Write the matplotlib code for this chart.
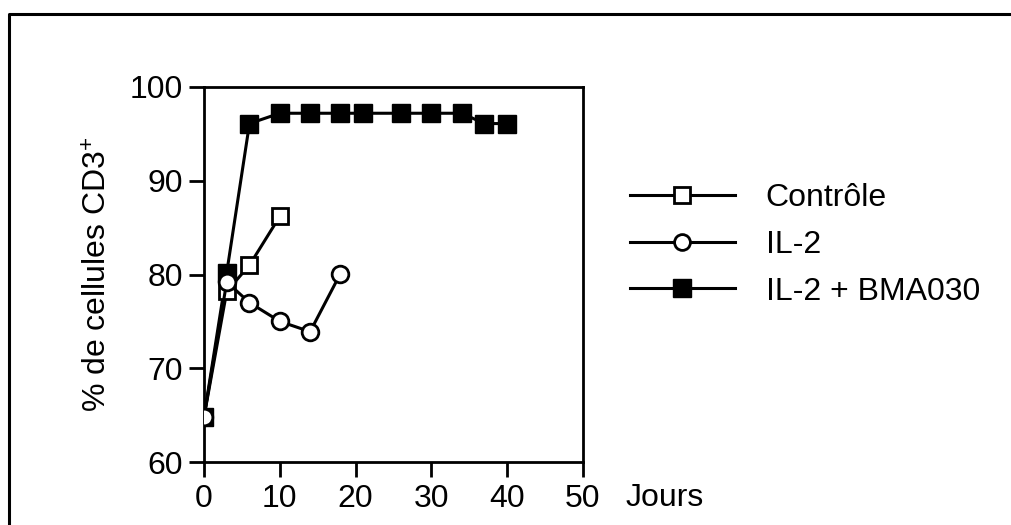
import matplotlib.pyplot as plt
from matplotlib.lines import Line2D

plt.rcParams['font.family'] = ['Liberation Sans', 'DejaVu Sans']
plt.rcParams['mathtext.fontset'] = 'custom'
plt.rcParams['mathtext.rm'] = 'Liberation Sans'
plt.rcParams['mathtext.default'] = 'regular'

# Days and % CD3+ cells for each condition
jours_controle = [0, 3, 6, 10]
controle = [64.8, 78.2, 81.0, 86.2]

jours_il2 = [0, 3, 6, 10, 14, 18]
il2 = [64.8, 79.2, 77.0, 75.0, 73.9, 80.1]

jours_bma = [0, 3, 6, 10, 14, 18, 21, 26, 30, 34, 37, 40]
bma = [64.8, 80.2, 96.1, 97.2, 97.2, 97.2, 97.2, 97.2, 97.2, 97.2, 96.1, 96.1]

x_ticks = [0, 10, 20, 30, 40, 50]
y_ticks = [60, 70, 80, 90, 100]

fig = plt.figure(figsize=(10.11, 5.25), dpi=100)
ax = fig.add_axes([204 / 1011, 1 - 462 / 525, 379 / 1011, 375 / 525])

# Outer frame (top and left edges only are visible)
fig.add_artist(Line2D([9 / 1011, 9 / 1011, 1.0], [0.0, 1 - 14 / 525, 1 - 14 / 525],
                      color='black', lw=2.2, transform=fig.transFigure))

lw = 2.2
ax.plot(jours_bma, bma, color='black', lw=lw, marker='s', ms=13,
        mfc='black', mec='black', label='IL-2 + BMA030', zorder=3)
ax.plot(jours_controle, controle, color='black', lw=lw, marker='s', ms=12,
        mfc='white', mec='black', mew=2, label='Contrôle', zorder=4)
ax.plot(jours_il2, il2, color='black', lw=lw, marker='o', ms=12,
        mfc='white', mec='black', mew=2, label='IL-2', zorder=4)

ax.set_xlim(0, 50)
ax.set_ylim(60, 100)
ax.set_xticks(x_ticks)
ax.set_yticks(y_ticks)
ax.tick_params(axis='both', direction='out', length=11, width=2, labelsize=23)
ax.tick_params(axis='x', pad=5)
ax.tick_params(axis='y', pad=4)
for s in ax.spines.values():
    s.set_linewidth(2)

ax.set_ylabel('% de cellules CD3$^{+}$', fontsize=23, labelpad=12)
ax.text(1.111, -0.095, 'Jours', transform=ax.transAxes, fontsize=23,
        ha='left', va='center')

handles, labels = ax.get_legend_handles_labels()
order = [1, 2, 0]
leg = ax.legend([handles[i] for i in order], [labels[i] for i in order],
                loc='center left', bbox_to_anchor=(601 / 1011, 1 - 245 / 525),
                bbox_transform=fig.transFigure, frameon=False, fontsize=23,
                handlelength=3.3, handletextpad=0.95, labelspacing=0.52,
                markerscale=0.95)

fig.savefig('out.png', dpi=100)
